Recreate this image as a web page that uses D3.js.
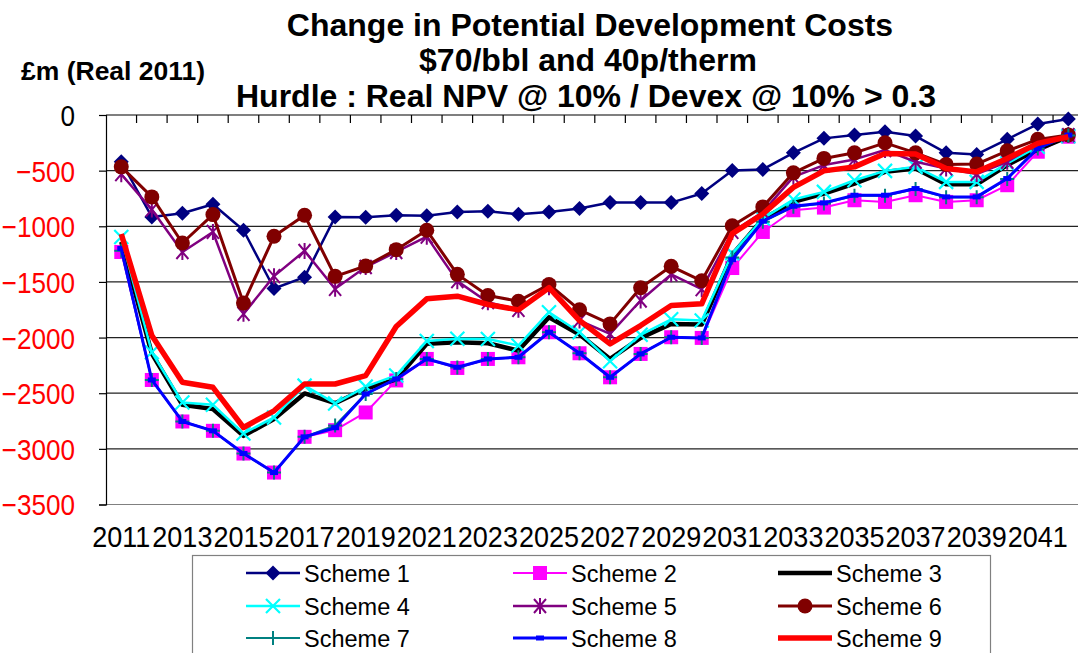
<!DOCTYPE html>
<html>
<head>
<meta charset="utf-8">
<script src="https://cdn.jsdelivr.net/npm/d3@7"></script>
<style>
  html, body { margin: 0; padding: 0; background: #fff; }
  svg { display: block; font-family: "Liberation Sans", Arial, sans-serif; }
</style>
</head>
<body>
<svg id="chart" width="1078" height="653"></svg>
<script>
const years = d3.range(2011, 2043);
const yTicks = [0, -500, -1000, -1500, -2000, -2500, -3000, -3500];
const xLabelYears = d3.range(2011, 2042, 2);

const scheme1 = [-420, -916, -883, -802, -1036, -1559, -1457, -916, -919, -901, -905, -871, -865, -892, -871, -841, -787, -787, -787, -706, -498, -489, -340, -210, -180, -150, -189, -340, -354, -219, -81, -36];
const scheme2 = [-1231, -2381, -2754, -2838, -3042, -3213, -2892, -2832, -2673, -2385, -2192, -2273, -2192, -2177, -1952, -2141, -2357, -2147, -1997, -2003, -1375, -1051, -856, -832, -766, -781, -721, -781, -766, -631, -330, -195];
const scheme3 = [-1140, -2144, -2604, -2642, -2883, -2733, -2502, -2590, -2460, -2375, -2055, -2042, -2051, -2117, -1817, -1973, -2192, -2003, -1877, -1883, -1255, -935, -781, -706, -616, -511, -480, -622, -622, -450, -309, -195];
const scheme4 = [-1096, -2132, -2583, -2604, -2862, -2718, -2432, -2592, -2441, -2340, -2030, -2010, -2012, -2072, -1772, -1952, -2213, -1975, -1836, -1847, -1243, -930, -760, -691, -586, -502, -466, -601, -601, -435, -285, -190];
const scheme5 = [-532, -850, -1231, -1051, -1787, -1448, -1222, -1562, -1366, -1231, -1093, -1493, -1682, -1751, -1547, -1847, -1967, -1667, -1432, -1565, -1051, -871, -556, -450, -399, -315, -420, -480, -530, -420, -255, -180];
const scheme6 = [-466, -736, -1150, -895, -1690, -1090, -901, -1450, -1357, -1210, -1036, -1432, -1622, -1673, -1523, -1751, -1877, -1552, -1360, -1490, -995, -826, -520, -390, -340, -250, -340, -444, -441, -322, -219, -180];
const scheme7 = [-1220, -2381, -2754, -2838, -3042, -3213, -2892, -2790, -2507, -2372, -2192, -2270, -2192, -2177, -1952, -2141, -2357, -2147, -1997, -2003, -1280, -960, -825, -795, -725, -725, -665, -740, -740, -575, -300, -185];
const scheme8 = [-1200, -2381, -2754, -2838, -3042, -3213, -2892, -2810, -2507, -2372, -2192, -2267, -2192, -2177, -1952, -2141, -2357, -2147, -1997, -2003, -1300, -955, -820, -790, -721, -721, -661, -736, -736, -571, -300, -180];
const scheme9 = [-1070, -1982, -2402, -2447, -2808, -2658, -2417, -2417, -2342, -1901, -1652, -1628, -1703, -1751, -1552, -1847, -2057, -1892, -1712, -1697, -1066, -890, -651, -502, -466, -345, -351, -480, -511, -390, -255, -195];

const seriesNames = ["Scheme 1", "Scheme 2", "Scheme 3", "Scheme 4", "Scheme 5", "Scheme 6", "Scheme 7", "Scheme 8", "Scheme 9"];
const seriesValues = [scheme1, scheme2, scheme3, scheme4, scheme5, scheme6, scheme7, scheme8, scheme9];

// line / marker look per series
const styles = [
  {color: "#000080", width: 2.5, marker: "diamond"},
  {color: "#ff00ff", width: 2, marker: "square"},
  {color: "#000000", width: 4.5, marker: null},
  {color: "#00ffff", width: 2.5, marker: "x"},
  {color: "#800080", width: 2.5, marker: "star"},
  {color: "#800000", width: 3, marker: "circle"},
  {color: "#008080", width: 2, marker: "plus"},
  {color: "#0000ff", width: 3, marker: "dash"},
  {color: "#ff0000", width: 5.5, marker: null}
];

const svg = d3.select("#chart");
const plotLeft = 106, plotTop = 115, plotBottom = 504.5, step = 30.55;
const plotRight = plotLeft + step * years.length;

const x = d3.scaleBand().domain(years).range([plotLeft, plotRight]).padding(0);
const y = d3.scaleLinear().domain([-3500, 0]).range([plotBottom, plotTop]);
const cx = d => x(d) + x.bandwidth() / 2;

// titles
const title = svg.append("g").attr("font-weight", "bold").attr("text-anchor", "middle").attr("font-size", 32);
title.append("text").attr("x", 590).attr("y", 36).text("Change in Potential Development Costs");
title.append("text").attr("x", 588).attr("y", 71).text("$70/bbl and 40p/therm");
title.append("text").attr("x", 586).attr("y", 107).text("Hurdle : Real NPV @ 10% / Devex @ 10% > 0.3");

svg.append("text").attr("x", 21).attr("y", 80).attr("font-weight", "bold").attr("font-size", 26.5)
  .text("£m (Real 2011)");

// gridlines
svg.append("g").selectAll("line").data(yTicks.filter(t => t < 0)).join("line")
  .attr("x1", plotLeft).attr("x2", plotRight)
  .attr("y1", d => y(d)).attr("y2", d => y(d))
  .attr("stroke", d => d === -3500 ? "#808080" : "#222").attr("stroke-width", 1.2);

// y axis
const yAxis = svg.append("g").attr("transform", `translate(${plotLeft},0)`)
  .call(d3.axisLeft(y).tickValues(yTicks).tickSize(7).tickPadding(0).tickFormat(d3.format("d")));
yAxis.select(".domain").attr("stroke", "#000").attr("stroke-width", 1.2);
yAxis.selectAll(".tick line").attr("stroke", "#000").attr("stroke-width", 1.2);
yAxis.selectAll(".tick text")
  .attr("font-size", 29).attr("font-family", "Liberation Sans, Arial, sans-serif")
  .attr("fill", d => d === 0 ? "#000" : "#ff0000")
  .attr("x", 0).attr("dy", "0.36em")
  .attr("transform", "translate(-31,0) scale(0.9,1)");

// x axis along zero line, ticks hanging down at band edges
const xg = svg.append("g");
xg.append("line").attr("x1", plotLeft).attr("x2", plotRight).attr("y1", y(0)).attr("y2", y(0))
  .attr("stroke", "#000").attr("stroke-width", 1.2);
xg.selectAll("line.tk").data(years.slice(1)).join("line").attr("class", "tk")
  .attr("x1", d => x(d)).attr("x2", d => x(d))
  .attr("y1", y(0)).attr("y2", y(0) + 8)
  .attr("stroke", "#000").attr("stroke-width", 1.2);

svg.append("g").selectAll("text").data(xLabelYears).join("text")
  .attr("transform", d => `translate(${cx(d)},547) scale(0.9,1)`)
  .attr("text-anchor", "middle").attr("font-size", 30)
  .text(d => d);

// markers
function drawMarker(g, type, color) {
  if (type === "diamond") {
    g.append("path").attr("d", "M0,-7.5L7.5,0L0,7.5L-7.5,0Z").attr("fill", color);
  } else if (type === "square") {
    g.append("rect").attr("x", -7).attr("y", -7).attr("width", 14).attr("height", 14).attr("fill", color);
  } else if (type === "circle") {
    g.append("circle").attr("r", 7.5).attr("fill", color);
  } else if (type === "x") {
    g.append("path").attr("d", "M-7,-7L7,7M-7,7L7,-7").attr("stroke", color).attr("stroke-width", 2.2);
  } else if (type === "star") {
    g.append("path").attr("d", "M-6,-7L6,7M-6,7L6,-7M0,-8L0,8").attr("stroke", color).attr("stroke-width", 2);
  } else if (type === "plus") {
    g.append("path").attr("d", "M-7,0L7,0M0,-7L0,7").attr("stroke", color).attr("stroke-width", 2);
  } else if (type === "dash") {
    g.append("rect").attr("x", -4).attr("y", -2.5).attr("width", 8).attr("height", 5).attr("fill", color);
  }
}

const line = d3.line().x((d, i) => cx(years[i])).y(d => y(d));

const plot = svg.append("g");
seriesValues.forEach((vals, s) => {
  const st = styles[s];
  const g = plot.append("g");
  g.append("path").datum(vals).attr("d", line)
    .attr("fill", "none").attr("stroke", st.color).attr("stroke-width", st.width)
    .attr("stroke-linejoin", "round");
  if (st.marker) {
    vals.forEach((v, i) => {
      const m = g.append("g").attr("transform", `translate(${cx(years[i])},${y(v)})`);
      drawMarker(m, st.marker, st.color);
    });
  }
});

// legend
svg.append("rect").attr("x", 192.5).attr("y", 555.5).attr("width", 798).attr("height", 120)
  .attr("fill", "#fff").attr("stroke", "#808080").attr("stroke-width", 1.2);

const colX = [246, 513, 778];
const rowY = [573, 606, 638];
seriesNames.forEach((name, s) => {
  const st = styles[s];
  const lx = colX[s % 3], ly = rowY[Math.floor(s / 3)];
  const g = svg.append("g");
  g.append("line").attr("x1", lx).attr("x2", lx + 54).attr("y1", ly).attr("y2", ly)
    .attr("stroke", st.color).attr("stroke-width", st.width);
  if (st.marker) {
    const m = g.append("g").attr("transform", `translate(${lx + 27},${ly})`);
    drawMarker(m, st.marker, st.color);
  }
  g.append("text").attr("x", lx + 58).attr("y", ly + 8.5).attr("font-size", 23.5).text(name);
});
</script>
</body>
</html>
